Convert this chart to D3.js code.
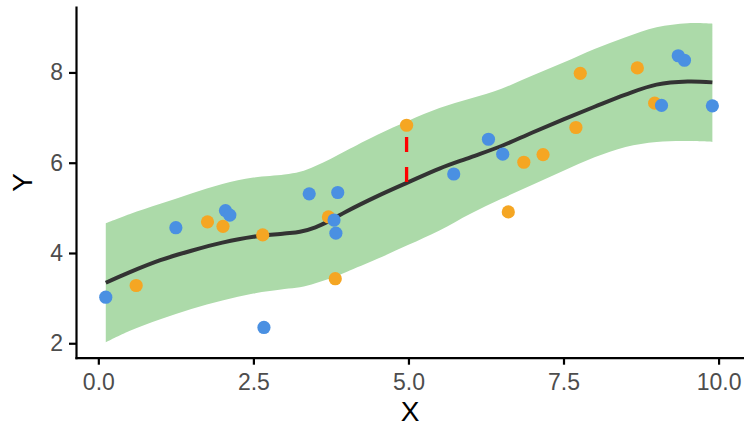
<!DOCTYPE html>
<html>
<head>
<meta charset="utf-8">
<script src="https://cdn.jsdelivr.net/npm/d3@7"></script>
<style>
  body { margin: 0; background: #fff; }
  svg { display: block; font-family: "Liberation Sans", Arial, sans-serif; }
  .axis .domain, .axis line { stroke: #000; stroke-width: 2.2; }
  .axis text { fill: #4d4d4d; font-size: 23px; }
</style>
</head>
<body>
<div id="chart"></div>
<script>
//=========== DATA ===========//
let blueX = [0.12, 1.25, 2.05, 2.12, 2.67, 3.40, 3.80, 3.83, 3.86, 5.73, 6.29, 6.52, 9.08, 9.35, 9.45, 9.90];
let blueY = [3.02, 4.56, 4.94, 4.84, 2.35, 5.31, 4.73, 4.44, 5.34, 5.75, 6.52, 6.19, 7.27, 8.37, 8.27, 7.26];

let orangeX = [0.61, 1.76, 2.01, 2.65, 3.71, 3.82, 4.97, 6.61, 6.86, 7.17, 7.70, 7.77, 8.69, 8.97];
let orangeY = [3.28, 4.69, 4.59, 4.40, 4.80, 3.43, 6.83, 4.91, 6.01, 6.18, 6.78, 7.98, 8.10, 7.32];

// smooth fit and its band
let fitX     = [0.12, 0.5, 1.0, 1.5, 2.0, 2.5, 3.0, 3.25, 3.5, 3.75, 4.0, 4.5, 5.0, 5.5, 6.0, 6.5, 7.0, 7.5, 8.0, 8.5, 9.0, 9.5, 9.9];
let fitY     = [3.34, 3.57, 3.84, 4.05, 4.23, 4.36, 4.43, 4.47, 4.57, 4.73, 4.92, 5.26, 5.57, 5.87, 6.12, 6.37, 6.67, 6.96, 7.24, 7.51, 7.73, 7.80, 7.78];
let bandHigh = [4.66, 4.86, 5.09, 5.32, 5.53, 5.67, 5.74, 5.80, 5.93, 6.09, 6.27, 6.62, 6.93, 7.21, 7.42, 7.64, 7.93, 8.22, 8.52, 8.78, 9.00, 9.09, 9.08];
let bandLow  = [2.02, 2.27, 2.53, 2.76, 2.95, 3.10, 3.20, 3.24, 3.33, 3.44, 3.58, 3.87, 4.18, 4.50, 4.87, 5.20, 5.51, 5.82, 6.12, 6.35, 6.46, 6.48, 6.46];

// residual marker
let residX = 4.97;
let residFrom = 5.57;
let residTo = 6.83;

let xTicks = [0, 2.5, 5, 7.5, 10];
let yTicks = [2, 4, 6, 8];
let xDomain = [-0.36, 10.41];
let yDomain = [1.68, 9.45];

//=========== SETUP ===========//
const W = 744, H = 427;
const margin = {top: 7, right: 0, bottom: 69.3, left: 76};
const width = W - margin.left - margin.right;
const height = H - margin.top - margin.bottom;

const svg = d3.select("#chart").append("svg")
  .attr("width", W)
  .attr("height", H);

const g = svg.append("g")
  .attr("transform", "translate(" + margin.left + "," + margin.top + ")");

const x = d3.scaleLinear().domain(xDomain).range([0, width]);
const y = d3.scaleLinear().domain(yDomain).range([height, 0]);

//=========== BAND + FIT ===========//
const fit = fitX.map((d, i) => ({x: d, y: fitY[i], lo: bandLow[i], hi: bandHigh[i]}));

g.append("path")
  .datum(fit)
  .attr("fill", "#acdaa9")
  .attr("d", d3.area()
    .curve(d3.curveCatmullRom)
    .x(d => x(d.x))
    .y0(d => y(d.lo))
    .y1(d => y(d.hi)));

g.append("path")
  .datum(fit)
  .attr("fill", "none")
  .attr("stroke", "#333333")
  .attr("stroke-width", 4)
  .attr("d", d3.line()
    .curve(d3.curveCatmullRom)
    .x(d => x(d.x))
    .y(d => y(d.y)));

//=========== RESIDUAL ===========//
g.append("line")
  .attr("x1", x(residX)).attr("x2", x(residX))
  .attr("y1", y(residFrom)).attr("y2", y(residTo))
  .attr("stroke", "#ff0000")
  .attr("stroke-width", 3.3)
  .attr("stroke-dasharray", "15,15");

//=========== POINTS ===========//
const orange = orangeX.map((d, i) => ({x: d, y: orangeY[i]}));
const blue = blueX.map((d, i) => ({x: d, y: blueY[i]}));

g.selectAll(".pt-orange")
  .data(orange)
  .enter().append("circle")
  .attr("class", "pt-orange")
  .attr("cx", d => x(d.x))
  .attr("cy", d => y(d.y))
  .attr("r", 6.6)
  .attr("fill", "#f5a623");

g.selectAll(".pt-blue")
  .data(blue)
  .enter().append("circle")
  .attr("class", "pt-blue")
  .attr("cx", d => x(d.x))
  .attr("cy", d => y(d.y))
  .attr("r", 6.6)
  .attr("fill", "#4a90e2");

//=========== AXES ===========//
const xAxis = d3.axisBottom(x)
  .tickValues(xTicks)
  .tickFormat(d3.format(".1f"))
  .tickSize(7)
  .tickSizeOuter(0)
  .tickPadding(9);

const yAxis = d3.axisLeft(y)
  .tickValues(yTicks)
  .tickFormat(d3.format("d"))
  .tickSize(7)
  .tickSizeOuter(0)
  .tickPadding(6);

g.append("g")
  .attr("class", "x axis")
  .attr("transform", "translate(0," + height + ")")
  .call(xAxis);

g.append("g")
  .attr("class", "y axis")
  .call(yAxis);

g.selectAll(".domain").attr("stroke-linecap", "square");

// titles
svg.append("text")
  .attr("x", margin.left + width / 2)
  .attr("y", 421)
  .attr("text-anchor", "middle")
  .style("font-size", "28px")
  .attr("fill", "#000")
  .text("X");

svg.append("text")
  .attr("transform", "translate(32," + (margin.top + height / 2) + ") rotate(-90)")
  .attr("text-anchor", "middle")
  .style("font-size", "28px")
  .attr("fill", "#000")
  .text("Y");
</script>
</body>
</html>
